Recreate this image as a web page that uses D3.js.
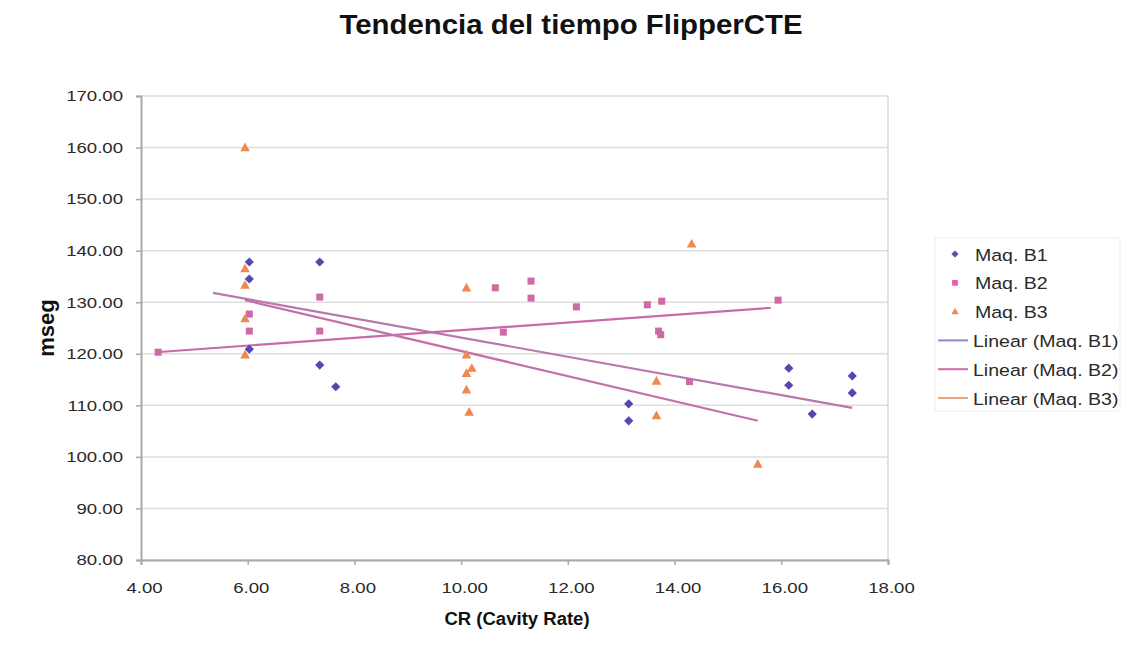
<!DOCTYPE html>
<html><head><meta charset="utf-8">
<script src="https://cdn.jsdelivr.net/npm/d3@7/dist/d3.min.js"></script>
<style>body{margin:0;background:#fff;font-family:"Liberation Sans",Arial,sans-serif}</style>
</head><body><svg id="c" width="1125" height="646"></svg>
<script>
// ---- data ----
const seriesNames = ["Maq. B1", "Maq. B2", "Maq. B3"];
const b1X = [6.03,6.03,6.03,7.35,7.35,7.65,13.14,13.14,16.14,16.14,16.58,17.33,17.33];
const b1Y = [137.8,134.5,120.9,137.8,117.8,113.6,110.3,107.0,117.2,113.9,108.3,115.7,112.4];
const b2X = [4.32,6.03,6.03,7.35,7.35,10.64,11.31,11.31,10.79,12.16,13.49,13.76,13.7,13.74,14.28,15.94];
const b2Y = [120.3,127.7,124.4,131.0,124.4,132.8,134.1,130.8,124.2,129.1,129.5,130.2,124.4,123.7,114.6,130.4];
const b3X = [5.95,5.95,5.95,5.95,5.95,10.1,10.1,10.2,10.1,10.1,10.15,13.66,13.66,14.32,15.56];
const b3Y = [160.0,136.5,133.3,126.8,119.8,132.8,119.8,117.2,116.2,113.0,108.7,114.7,108.0,141.3,98.6];
// trend line endpoints
const trendB1 = [[5.35,131.8],[17.33,109.5]];
const trendB2 = [[4.28,120.3],[15.8,128.9]];
const trendB3 = [[5.95,130.4],[15.56,107.0]];
const legendLabels = ["Maq. B1","Maq. B2","Maq. B3","Linear (Maq. B1)","Linear (Maq. B2)","Linear (Maq. B3)"];
const xTicks = [4,6,8,10,12,14,16,18];
const yTicks = [80,90,100,110,120,130,140,150,160,170];

const svg = d3.select("#c");
const L=141, R=888, T=96, B=560;
const x = d3.scaleLinear().domain([4,18]).range([L,R]);
const y = d3.scaleLinear().domain([80,170]).range([B,T]);
const fmt = d3.format(".2f");

function stretch(sel, sx){
  sel.each(function(){
    const t=d3.select(this);
    const tx=+t.attr("x")||0, ty=+t.attr("y")||0;
    t.attr("x",0).attr("y",0).attr("transform",`translate(${tx},${ty}) scale(${sx},1)`);
  });
}

// title
svg.append("text").attr("x",571).attr("y",34).attr("text-anchor","middle")
  .attr("font-size",28).attr("font-weight","bold").attr("fill","#111")
  .text("Tendencia del tiempo FlipperCTE").call(stretch,1.05);

// gridlines
svg.append("g").selectAll("line").data(yTicks).join("line")
  .attr("x1",L).attr("x2",R).attr("y1",d=>y(d)).attr("y2",d=>y(d))
  .attr("stroke","#dedede").attr("stroke-width",1.5);
// right border
svg.append("line").attr("x1",R).attr("x2",R).attr("y1",T).attr("y2",B).attr("stroke","#d8d8d8").attr("stroke-width",1.5);

// axes
const yAxis = svg.append("g").attr("transform",`translate(${L},0)`)
  .call(d3.axisLeft(y).tickValues(yTicks).tickFormat(fmt).tickSize(5).tickPadding(13));
const xAxis = svg.append("g").attr("transform",`translate(0,${B})`)
  .call(d3.axisBottom(x).tickValues(xTicks).tickFormat(fmt).tickSize(5).tickPadding(17));
[yAxis,xAxis].forEach(a=>{
  a.select(".domain").attr("stroke","#aaa6b2").attr("stroke-width",2);
  a.selectAll(".tick line").attr("stroke","#aaa6b2").attr("stroke-width",1.5);
  a.selectAll("text").attr("font-size",15).attr("fill","#2a2a2a")
   .attr("font-family","'Liberation Sans',Arial,sans-serif").call(stretch,1.24);
});
xAxis.selectAll(".tick text").attr("transform",function(){
  return d3.select(this).attr("transform").replace("translate(0,","translate(3,");
});

// axis titles
svg.append("text").attr("transform","translate(54,328) rotate(-90)").attr("text-anchor","middle")
  .attr("font-size",22).attr("font-weight","bold").attr("fill","#111").text("mseg");
svg.append("text").attr("x",517).attr("y",625).attr("text-anchor","middle")
  .attr("font-size",18).attr("font-weight","bold").attr("fill","#111")
  .text("CR (Cavity Rate)").call(stretch,1.03);

// trend lines
const lineGen = d3.line().x(d=>x(d[0])).y(d=>y(d[1]));
const trendColors = ["#b878aa","#c96aa6","#c46fa8"];
[trendB1,trendB2,trendB3].forEach((t,i)=>{
  svg.append("path").attr("d",lineGen(t)).attr("fill","none")
    .attr("stroke",trendColors[i]).attr("stroke-width",2.2);
});

// markers
const markColors = ["#5546b0","#cf6aa8","#f0884e"];
function shape(i,r){
  if(i===0) return `M0,${-r}L${r},0L0,${r}L${-r},0Z`;
  if(i===1) return `M${-r*0.8},${-r*0.8}h${r*1.6}v${r*1.6}h${-r*1.6}Z`;
  return `M0,${-r*1.05}L${r},${r*0.75}L${-r},${r*0.75}Z`;
}
const radii = [4.6, 4.4, 4.8];
const series = [[b1X,b1Y],[b2X,b2Y],[b3X,b3Y]];
series.forEach((s,i)=>{
  const pts = s[0].map((v,j)=>[v,s[1][j]]);
  svg.append("g").selectAll("path").data(pts).join("path")
    .attr("transform",d=>`translate(${x(d[0])},${y(d[1])})`)
    .attr("d",shape(i,radii[i]))
    .attr("fill",markColors[i]);
});

// legend
const lg = svg.append("g");
lg.append("rect").attr("x",935).attr("y",238).attr("width",185).attr("height",173)
  .attr("fill","#fff").attr("stroke","#ededed");
const legendSwatch = ["#9088d0","#d068b0","#f0a080"];
const legendMark = ["#5a4db2","#e85ab4","#f0884e"];
legendLabels.forEach((lab,i)=>{
  const yy = 254 + i*28.8;
  if(i<3){
    lg.append("path").attr("transform",`translate(955,${yy})`)
      .attr("d",shape(i,3.6)).attr("fill",legendMark[i]);
    lg.append("text").attr("x",975).attr("y",yy+6.5).attr("font-size",17).attr("fill","#2a2a2a")
      .text(lab).call(stretch,1.15);
  } else {
    lg.append("line").attr("x1",938).attr("x2",968).attr("y1",yy).attr("y2",yy)
      .attr("stroke",legendSwatch[i-3]).attr("stroke-width",2);
    lg.append("text").attr("x",973).attr("y",yy+6.5).attr("font-size",17).attr("fill","#2a2a2a")
      .text(lab).call(stretch,1.15);
  }
});
</script></body></html>
